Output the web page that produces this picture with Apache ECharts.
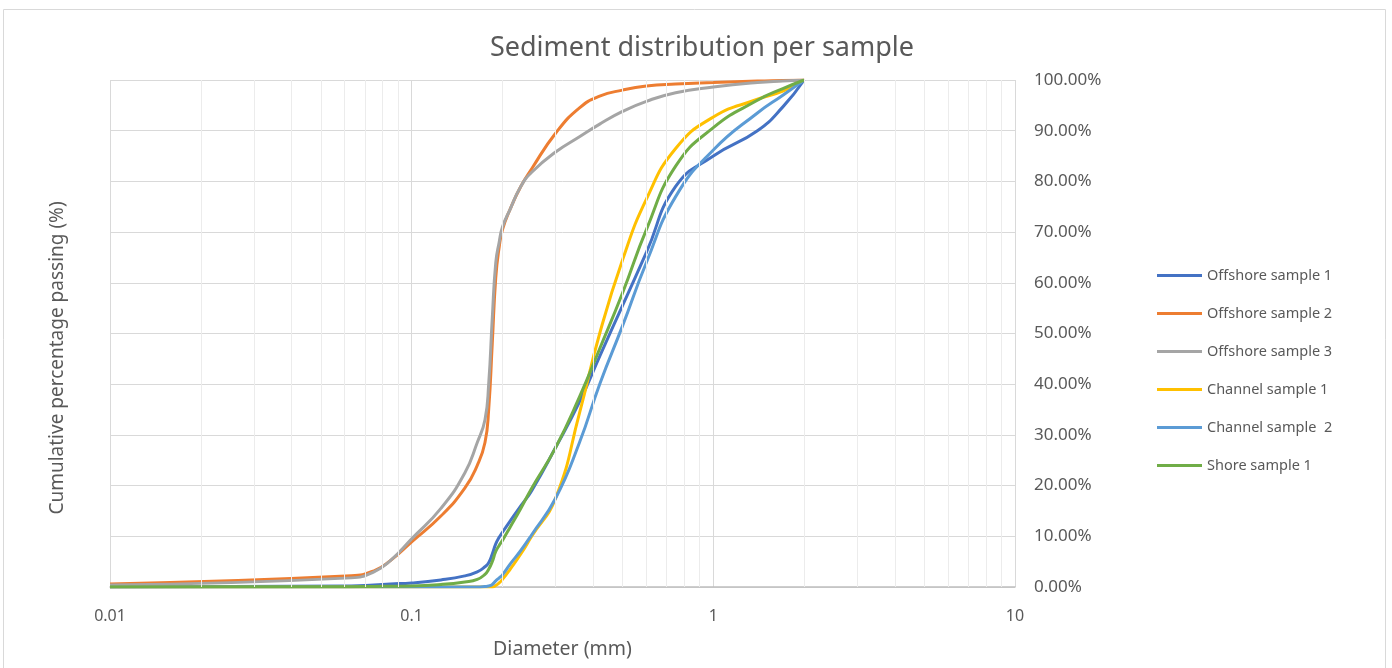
<!DOCTYPE html>
<html>
<head>
<meta charset="utf-8">
<script src="https://cdn.jsdelivr.net/npm/echarts@6/dist/echarts.min.js"></script>
<style>
  html, body { margin: 0; padding: 0; background: #fff; }
  #main { width: 1392px; height: 668px; }
</style>
</head>
<body>
<div id="main"></div>
<script>
// sieve diameters (mm) shared by every sample
var diameters = [0.01, 0.063, 0.075, 0.085, 0.1, 0.125, 0.15, 0.165, 0.175, 0.18, 0.185, 0.19, 0.195, 0.2,
  0.212, 0.23, 0.25, 0.3, 0.36, 0.42, 0.5, 0.6, 0.75, 1.0, 1.4, 1.7, 2.0];

// cumulative % passing
var offshore1 = [0, 0.2, 0.4, 0.6, 0.8, 1.4, 2.2, 3.0, 4.0, 4.8, 6.5, 8.5, 9.8, 10.8,
  13, 16, 19, 27.5, 36.5, 45.5, 55.5, 66, 79, 85, 90, 94.7, 100];
var offshore2 = [0.6, 2.2, 3.2, 5.2, 8.9, 14, 19.5, 24, 28.5, 35, 48, 61, 67, 70.5,
  74.5, 79, 82.5, 89.5, 94.5, 96.8, 98, 98.8, 99.2, 99.5, 99.8, 99.9, 100];
var offshore3 = [0.4, 1.8, 3.0, 5.2, 9.5, 15.5, 22.5, 28.5, 33, 40, 53, 64, 68, 71,
  74.5, 79, 81.8, 85.8, 88.8, 91.3, 93.8, 95.8, 97.5, 98.6, 99.5, 99.8, 100];
var channel1 = [0, 0, 0, 0, 0, 0, 0, 0, 0, 0, 0, 0.3, 0.8, 1.5,
  3.5, 6.5, 10, 17.5, 34.3, 50, 64.5, 76.5, 86.5, 92.7, 96.2, 97.8, 100];
var channel2 = [0, 0, 0, 0, 0, 0, 0, 0, 0.1, 0.2, 0.5, 1.2, 1.8, 2.4,
  4.5, 7.2, 10.3, 17.5, 28.5, 40, 51.5, 64, 77, 86.2, 93.5, 97, 100];
var shore1 = [0, 0.05, 0.1, 0.15, 0.2, 0.5, 1.0, 1.5, 2.5, 3.5, 5, 7, 8.2, 9.2,
  11.8, 15.5, 19.5, 27.5, 37.5, 47, 58, 70.5, 83, 90.6, 96, 98.3, 100];

var seriesNames = ['Offshore sample 1', 'Offshore sample 2', 'Offshore sample 3',
  'Channel sample 1', 'Channel sample  2', 'Shore sample 1'];
var seriesValues = [offshore1, offshore2, offshore3, channel1, channel2, shore1];
var colors = ['#4472C4', '#ED7D31', '#A5A5A5', '#FFC000', '#5B9BD5', '#70AD47'];

// light gridlines between the decades
var minorTicks = [0.02, 0.03, 0.04, 0.05, 0.06, 0.07, 0.08, 0.09,
  0.2, 0.3, 0.4, 0.5, 0.6, 0.7, 0.8, 0.9,
  2, 3, 4, 5, 6, 7, 8, 9];

var font = 'Noto Sans';
var myChart = echarts.init(document.getElementById('main'));

var series = seriesNames.map(function (name, i) {
  return {
    name: name,
    type: 'line',
    data: diameters.map(function (d, j) { return [d, seriesValues[i][j]]; }),
    smooth: 0.5,
    showSymbol: false,
    symbol: 'none',
    z: 3,
    lineStyle: { width: 3, color: colors[i] },
    itemStyle: { color: colors[i] }
  };
});

series.unshift({
  name: 'minor',
  type: 'line',
  data: [],
  z: 1,
  silent: true,
  markLine: {
    silent: true,
    symbol: 'none',
    label: { show: false },
    lineStyle: { color: '#ececec', width: 1, type: 'solid' },
    data: minorTicks.map(function (v) { return { xAxis: v }; })
  }
});

myChart.setOption({
  animation: false,
  color: colors,
  textStyle: { fontFamily: font },
  title: {
    text: 'Sediment distribution per sample',
    left: 697,
    textAlign: 'center',
    top: 30,
    textStyle: { color: '#595959', fontSize: 27, fontWeight: 'normal', fontFamily: font }
  },
  graphic: [
    {
      type: 'rect',
      shape: { x: 3.5, y: 9.5, width: 1382, height: 700 },
      style: { fill: 'none', stroke: '#d9d9d9', lineWidth: 1 },
      silent: true
    },
    {
      type: 'text',
      x: 58,
      y: 358,
      rotation: Math.PI / 2,
      style: {
        text: 'Cumulative percentage passing (%)',
        fill: '#595959',
        fontSize: 19,
        fontFamily: font,
        align: 'center',
        verticalAlign: 'middle'
      }
    }
  ],
  legend: {
    orient: 'vertical',
    left: 1152,
    top: 263,
    icon: 'rect',
    itemWidth: 45,
    itemHeight: 3,
    itemGap: 23,
    data: seriesNames,
    textStyle: { color: '#595959', fontSize: 14.5, fontFamily: font }
  },
  grid: { left: 110, right: 377, top: 80, bottom: 81 },
  xAxis: {
    type: 'log',
    logBase: 10,
    min: 0.01,
    max: 10,
    name: 'Diameter (mm)',
    nameLocation: 'middle',
    nameGap: 52,
    nameTextStyle: { color: '#595959', fontSize: 19.5, fontFamily: font },
    axisLine: { show: true, lineStyle: { color: '#bfbfbf', width: 1.5 } },
    axisTick: { show: false },
    axisLabel: {
      color: '#595959',
      fontSize: 16,
      margin: 21,
      formatter: function (v) { return String(+v.toPrecision(3)); }
    },
    splitLine: { show: true, lineStyle: { color: '#d9d9d9', width: 1 } }
  },
  yAxis: {
    type: 'value',
    position: 'right',
    min: 0,
    max: 100,
    interval: 10,
    axisLine: { show: false },
    axisTick: { show: false },
    axisLabel: {
      color: '#595959',
      fontSize: 17,
      margin: 19,
      formatter: function (v) { return v.toFixed(2) + '%'; }
    },
    splitLine: { show: true, lineStyle: { color: '#d9d9d9', width: 1 } }
  },
  series: series
});
</script>
</body>
</html>
